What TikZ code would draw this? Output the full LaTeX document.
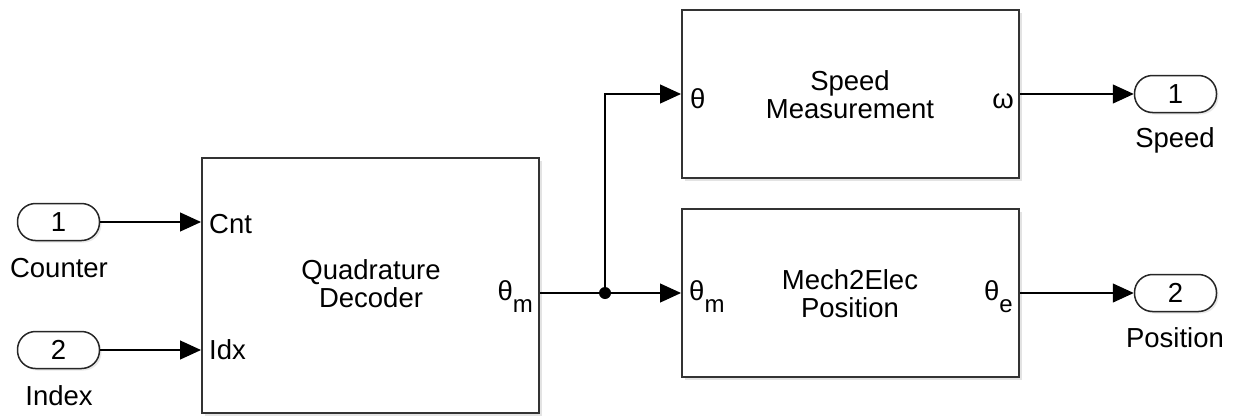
\documentclass[tikz,border=0pt]{standalone}
\usepackage{fontspec}
\setmainfont{Liberation Sans}
\usetikzlibrary{arrows.meta,shadows}

% text size used throughout the model
\newcommand\blk{\fontsize{27.5}{28}\selectfont}
% lowered subscript for port names such as theta_m
\newcommand\sub[1]{\raisebox{-12pt}{\fontsize{24}{24}\selectfont #1}}

\begin{document}
\begin{tikzpicture}[x=1pt,y=-1pt,
  block/.style={draw=black!80, line width=2pt, fill=white, minimum width=337pt,
    inner sep=0pt, font=\blk, align=center,
    drop shadow={shadow xshift=3pt, shadow yshift=-3pt, opacity=0.22}},
  port/.style={draw=black!85, line width=1.5pt, fill=white, rounded corners=18pt,
    minimum width=82pt, minimum height=37pt, inner sep=0pt, font=\blk,
    drop shadow={shadow xshift=2pt, shadow yshift=-2pt, opacity=0.18}},
  sig/.style={line width=1.2pt, -{Triangle[length=21pt,width=19pt]}},
  wire/.style={line width=1.2pt},
  lbl/.style={font=\blk, inner sep=0pt},
]
\useasboundingbox (0,0) rectangle (1238,418);

% subsystem blocks
\node[block, minimum height=255pt] (qd) at (370.5,285.5) {};
\node[block, minimum height=168pt] (sm) at (850.5,94) {};
\node[block, minimum height=168pt] (me) at (850.5,293) {};

\node[lbl, align=center] (qdt) at (371,284) {Quadrature\\Decoder};
\node[lbl, align=center] (smt) at (850,95) {Speed\\Measurement};
\node[lbl, align=center] (met) at (850,294) {Mech2Elec\\Position};

% port names inside the blocks
\node[lbl, anchor=west] (cnt) at (209,224) {Cnt};
\node[lbl, anchor=west] (idx) at (209,350) {Idx};
\node[lbl, anchor=base east] (thm) at (533,300) {θ\sub{m}};
\node[lbl, anchor=base west] (th) at (690,108) {θ};
\node[lbl, anchor=base west] (thm2) at (689,300) {θ\sub{m}};
\node[lbl, anchor=base east] (om) at (1014,108) {ω};
\node[lbl, anchor=base east] (the) at (1013,300) {θ\sub{e}};

% root-level inports and outports
\node[port] (in1) at (58.5,222) {1};
\node[port] (in2) at (58.5,350) {2};
\node[port] (out1) at (1175.5,94) {1};
\node[port] (out2) at (1175.5,293) {2};

\node[lbl] (in1l) at (59,268) {Counter};
\node[lbl] (in2l) at (59,396) {Index};
\node[lbl] (out1l) at (1175,140) {Speed};
\node[lbl] (out2l) at (1175,338) {Position};

% signal lines
\coordinate (j) at (605,293);
\draw[sig] (in1.east) -- (in1.east -| qd.west);
\draw[sig] (in2.east) -- (in2.east -| qd.west);
\draw[wire] (j -| qd.east) -- (j);
\draw[sig] (j) -- (j -| me.west);
\draw[sig] (j) |- (sm.west);
\fill (j) circle (6pt);
\draw[sig] (sm.east) -- (out1.west);
\draw[sig] (me.east) -- (out2.west);
\end{tikzpicture}
\end{document}
